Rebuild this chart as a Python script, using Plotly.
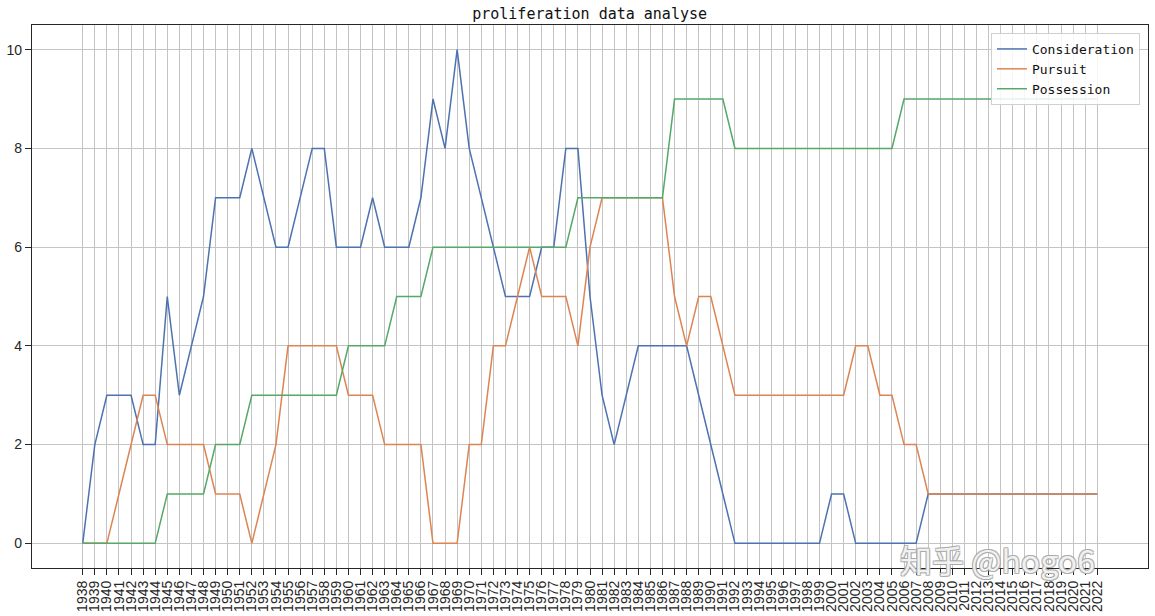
import plotly.graph_objects as go

years = list(range(1938, 2023))

consideration = [0, 2, 3, 3, 3, 2, 2, 5, 3, 4, 5, 7, 7, 7, 8, 7, 6, 6, 7, 8,
                 8, 6, 6, 6, 7, 6, 6, 6, 7, 9, 8, 10, 8, 7, 6, 5, 5, 5, 6, 6,
                 8, 8, 5, 3, 2, 3, 4, 4, 4, 4, 4, 3, 2, 1, 0, 0, 0, 0, 0, 0,
                 0, 0, 1, 1, 0, 0, 0, 0, 0, 0, 1, 1, 1, 1, 1, 1, 1, 1, 1, 1,
                 1, 1, 1, 1, 1]

pursuit = [0, 0, 0, 1, 2, 3, 3, 2, 2, 2, 2, 1, 1, 1, 0, 1, 2, 4, 4, 4,
           4, 4, 3, 3, 3, 2, 2, 2, 2, 0, 0, 0, 2, 2, 4, 4, 5, 6, 5, 5,
           5, 4, 6, 7, 7, 7, 7, 7, 7, 5, 4, 5, 5, 4, 3, 3, 3, 3, 3, 3,
           3, 3, 3, 3, 4, 4, 3, 3, 2, 2, 1, 1, 1, 1, 1, 1, 1, 1, 1, 1,
           1, 1, 1, 1, 1]

possession = [0, 0, 0, 0, 0, 0, 0, 1, 1, 1, 1, 2, 2, 2, 3, 3, 3, 3, 3, 3,
              3, 3, 4, 4, 4, 4, 5, 5, 5, 6, 6, 6, 6, 6, 6, 6, 6, 6, 6, 6,
              6, 7, 7, 7, 7, 7, 7, 7, 7, 9, 9, 9, 9, 9, 8, 8, 8, 8, 8, 8,
              8, 8, 8, 8, 8, 8, 8, 8, 9, 9, 9, 9, 9, 9, 9, 9, 9, 9, 9, 9,
              9, 9, 9, 9, 9]

series_names = ["Consideration", "Pursuit", "Possession"]
series_colors = ["#4C72B0", "#DD8452", "#55A868"]
y_ticks = [0, 2, 4, 6, 8, 10]

mono = "DejaVu Sans Mono"
sans = "Liberation Sans"

fig = go.Figure()
for name, vals, col in zip(series_names, [consideration, pursuit, possession], series_colors):
    fig.add_trace(go.Scatter(x=years, y=vals, mode="lines", name=name,
                             line=dict(color=col, width=1.5)))

fig.update_layout(
    width=1155, height=616,
    margin=dict(l=32, r=7, t=25, b=48, autoexpand=False),
    paper_bgcolor="white", plot_bgcolor="white",
    title=dict(text="proliferation data analyse", x=0.5105, xanchor="center",
               y=1 - 14 / 616, yanchor="middle", yref="container",
               font=dict(family=mono, size=15, color="#111111")),
    legend=dict(x=0.9928, y=0.9853, xanchor="right", yanchor="top",
                bgcolor="rgba(255,255,255,0.85)", bordercolor="#d0d0d0", borderwidth=1,
                font=dict(family=mono, size=13, color="#111111"),
                tracegroupgap=0),
    showlegend=True,
)

fig.update_xaxes(
    range=[1933.8, 2026.2], automargin=False,
    tickmode="array", tickvals=years, ticktext=[str(y) for y in years],
    tickangle=-90,
    tickfont=dict(family=sans, size=14, color="#262626"),
    showgrid=True, gridcolor="#c4c4c4", gridwidth=1,
    ticks="outside", ticklen=6, tickwidth=1.2, tickcolor="#262626",
    showline=True, linecolor="#262626", linewidth=1.3, mirror=True,
    zeroline=False,
)
fig.update_yaxes(
    range=[-0.5, 10.5], automargin=False,
    tickmode="array", tickvals=y_ticks, ticktext=[str(v) for v in y_ticks],
    tickfont=dict(family=sans, size=14, color="#262626"),
    showgrid=True, gridcolor="#c4c4c4", gridwidth=1,
    ticks="outside", ticklen=6, tickwidth=1.2, tickcolor="#262626",
    showline=True, linecolor="#262626", linewidth=1.3, mirror=True,
    zeroline=False,
)

fig.add_annotation(
    text="知乎 @hogo6", xref="paper", yref="paper",
    x=(997 - 32) / 1116, y=(568.3 - 559) / 543.6, xanchor="center", yanchor="middle",
    showarrow=False,
    font=dict(family="Noto Sans CJK SC", size=32, color="rgba(255,255,255,0.85)",
              shadow="-1px -1px 0 #a8a8a8, 1px -1px 0 #a8a8a8, -1px 1px 0 #a8a8a8, 1px 1px 0 #a8a8a8"),
)

fig.write_html("out.html", config={"displayModeBar": False},
               post_script="document.body.style.margin='0';document.body.style.overflow='hidden';")
